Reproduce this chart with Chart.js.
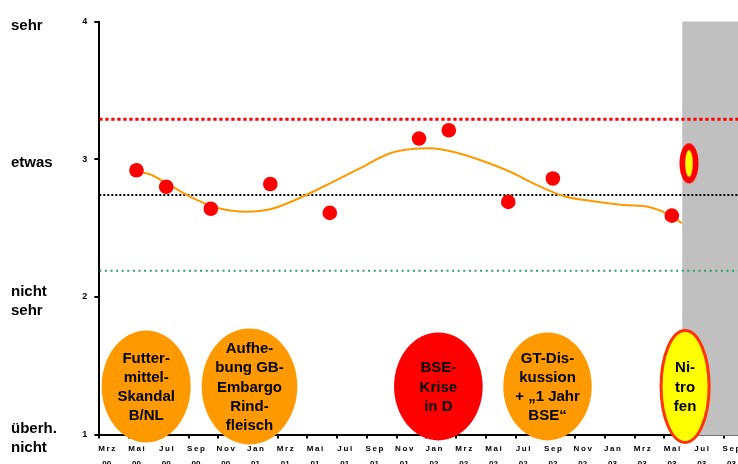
<!DOCTYPE html>
<html>
<head>
<meta charset="utf-8">
<script src="https://cdn.jsdelivr.net/npm/chart.js@4"></script>
<style>
  html, body { margin: 0; padding: 0; overflow: hidden; background: #fff; }
  #wrap { width: 738px; height: 464px; overflow: hidden; }
  canvas { display: block; }
</style>
</head>
<body>
<div id="wrap"><canvas id="myChart" width="790" height="480"></canvas></div>
<script>
// survey results (x = months since Mrz 00)
const surveyMonths = [2.5, 4.5, 7.5, 11.5, 15.5, 21.5, 23.5, 27.5, 30.5, 38.5];
const concernValues = [2.92, 2.80, 2.64, 2.82, 2.61, 3.15, 3.21, 2.69, 2.86, 2.59];

// Nitrofen value
const nitrofenMonths = [39.65];
const nitrofenValues = [2.97];

// trend line
const trendMonths = [2.07, 2.96, 3.52, 4.53, 6.10, 7.90, 9.91, 11.48, 13.28, 15.06, 17.31, 19.55,
  20.89, 22.24, 24.03, 25.60, 27.62, 29.41, 31.20, 33.45, 35.24, 37.03, 38.38, 39.17];
const trendValues = [2.898, 2.902, 2.885, 2.825, 2.728, 2.648, 2.619, 2.636, 2.709, 2.800, 2.922, 3.043,
  3.072, 3.079, 3.047, 2.994, 2.909, 2.813, 2.733, 2.691, 2.667, 2.651, 2.595, 2.535];

// horizontal reference levels
const upperLevel = 3.29;
const meanLevel = 2.74;
const lowerLevel = 2.19;

// shaded period starts here
const shadeFromMonth = 39.2;

// events
const eventLabels = [
  ['Futter-', 'mittel-', 'Skandal', 'B/NL'],
  ['Aufhe-', 'bung GB-', 'Embargo', 'Rind-', 'fleisch'],
  ['BSE-', 'Krise', 'in D'],
  ['GT-Dis-', 'kussion', '+ \u201e1 Jahr', 'BSE\u201c'],
  ['Ni-', 'tro', 'fen']
];
const eventMonths = [3.15, 10.1, 22.8, 30.14, 39.39];

// axis labels
const levelWords = [['überh.', 'nicht'], ['nicht', 'sehr'], 'etwas', 'sehr'];
const tickLabels = [
  ['Mrz', '00'], ['Mai', '00'], ['Jul', '00'], ['Sep', '00'], ['Nov', '00'],
  ['Jan', '01'], ['Mrz', '01'], ['Mai', '01'], ['Jul', '01'], ['Sep', '01'], ['Nov', '01'],
  ['Jan', '02'], ['Mrz', '02'], ['Mai', '02'], ['Jul', '02'], ['Sep', '02'], ['Nov', '02'],
  ['Jan', '03'], ['Mrz', '03'], ['Mai', '03'], ['Jul', '03'], ['Sep', '03'], ['Nov', '03']
];

// ellipse look
const eventStyles = [
  { rx: 44.5, ry: 56, fill: '#ff9900' },
  { rx: 47.8, ry: 58, fill: '#ff9900' },
  { rx: 44.3, ry: 54, fill: '#ff0000' },
  { rx: 44.2, ry: 54, fill: '#ff9900' },
  { rx: 24, ry: 56, fill: '#ffff00', border: '#ff3300' }
];
const eventLevel = 1.35;

const FONT = '"Liberation Sans", Arial, sans-serif';
Chart.defaults.font.family = FONT;
Chart.defaults.color = '#000';

const spaced = s => s.split('').join('\u2009');

// yellow/red marker for Nitrofen
const nitroMark = document.createElement('canvas');
nitroMark.width = 22;
nitroMark.height = 44;
(function () {
  const c = nitroMark.getContext('2d');
  c.fillStyle = '#ff0000';
  c.beginPath(); c.ellipse(11, 22, 9.5, 20, 0, 0, Math.PI * 2); c.fill();
  c.fillStyle = '#ffff00';
  c.beginPath(); c.ellipse(11, 22, 3.8, 13.3, 0, 0, Math.PI * 2); c.fill();
})();

const eventPlugin = {
  id: 'events',
  beforeDatasetsDraw(chart) {
    const { ctx, chartArea, scales } = chart;
    const x0 = scales.x.getPixelForValue(shadeFromMonth);
    ctx.save();
    ctx.fillStyle = '#c0c0c0';
    ctx.fillRect(x0, chartArea.top, chartArea.right - x0, chartArea.bottom - chartArea.top + 1);
    ctx.restore();
  },
  afterDatasetsDraw(chart) {
    const { ctx, scales } = chart;
    ctx.save();
    eventLabels.forEach((lines, i) => {
      const st = eventStyles[i];
      const cx = scales.x.getPixelForValue(eventMonths[i]);
      const cy = scales.y.getPixelForValue(eventLevel);
      ctx.beginPath();
      ctx.ellipse(cx, cy, st.rx, st.ry, 0, 0, Math.PI * 2);
      ctx.fillStyle = st.fill;
      ctx.fill();
      if (st.border) {
        ctx.lineWidth = 3;
        ctx.strokeStyle = st.border;
        ctx.stroke();
      }
      ctx.fillStyle = '#000';
      ctx.font = 'bold 15px ' + FONT;
      ctx.textAlign = 'center';
      ctx.textBaseline = 'middle';
      lines.forEach((t, j) => {
        ctx.fillText(t, cx, cy + 1 + (j - (lines.length - 1) / 2) * 19.3);
      });
    });
    ctx.restore();
  }
};

const toPoints = (xs, ys) => xs.map((x, i) => ({ x: x, y: ys[i] }));
const levelLine = v => [{ x: 0, y: v }, { x: 45, y: v }];

const ctx = document.getElementById('myChart');

new Chart(ctx, {
  type: 'line',
  data: {
    datasets: [
      {
        data: toPoints(surveyMonths, concernValues),
        showLine: false,
        pointRadius: 7.3,
        pointBackgroundColor: '#ff0000',
        pointBorderWidth: 0,
        order: 0
      },
      {
        data: toPoints(nitrofenMonths, nitrofenValues),
        showLine: false,
        pointStyle: nitroMark,
        order: 0
      },
      {
        data: toPoints(trendMonths, trendValues),
        borderColor: '#ff9900',
        borderWidth: 2,
        pointRadius: 0,
        cubicInterpolationMode: 'monotone',
        order: 1
      },
      {
        data: levelLine(upperLevel),
        borderColor: '#ff0000',
        borderWidth: 3,
        borderDash: [3.3, 2.7],
        pointRadius: 0,
        order: 2
      },
      {
        data: levelLine(meanLevel),
        borderColor: '#000000',
        borderWidth: 2,
        borderDash: [2, 2],
        pointRadius: 0,
        order: 2
      },
      {
        data: levelLine(lowerLevel),
        borderColor: '#339966',
        borderWidth: 2,
        borderDash: [2, 3.6],
        pointRadius: 0,
        order: 2
      }
    ]
  },
  options: {
    responsive: false,
    animation: false,
    layout: { padding: { left: 11, top: 21.5, right: 21.5, bottom: 0 } },
    plugins: {
      legend: { display: false },
      tooltip: { enabled: false }
    },
    scales: {
      x: {
        type: 'linear',
        min: 0,
        max: 45,
        afterBuildTicks: s => { s.ticks = tickLabels.map((_, i) => ({ value: i * 2 })); },
        afterFit: s => { s.height = 45.4; },
        grid: { drawOnChartArea: false, tickLength: 4, color: '#000', lineWidth: 2 },
        border: { color: '#000', width: 2 },
        ticks: {
          callback: v => { const t = tickLabels[v / 2]; return t ? [spaced(t[0]), t[1]] : ''; },
          autoSkip: false,
          maxRotation: 0,
          labelOffset: 7.5,
          padding: 3,
          font: { size: 8, weight: 'bold', lineHeight: 1.875 }
        }
      },
      y: {
        min: 1,
        max: 4,
        weight: 0,
        afterFit: s => { s.width = 24.3; },
        grid: { drawOnChartArea: false, tickLength: 5, color: '#000', lineWidth: 2 },
        border: { color: '#000', width: 2 },
        ticks: { stepSize: 1, padding: 7, font: { size: 9, weight: 'bold' } }
      },
      yw: {
        position: 'left',
        min: 1,
        max: 4,
        weight: 1,
        afterFit: s => { s.width = 64; },
        grid: { display: false },
        border: { display: false },
        ticks: {
          stepSize: 1,
          crossAlign: 'far',
          labelOffset: 4,
          callback: v => levelWords[v - 1],
          font: { size: 15, weight: 'bold', lineHeight: 1.27 }
        }
      }
    }
  },
  plugins: [eventPlugin]
});
</script>
</body>
</html>
